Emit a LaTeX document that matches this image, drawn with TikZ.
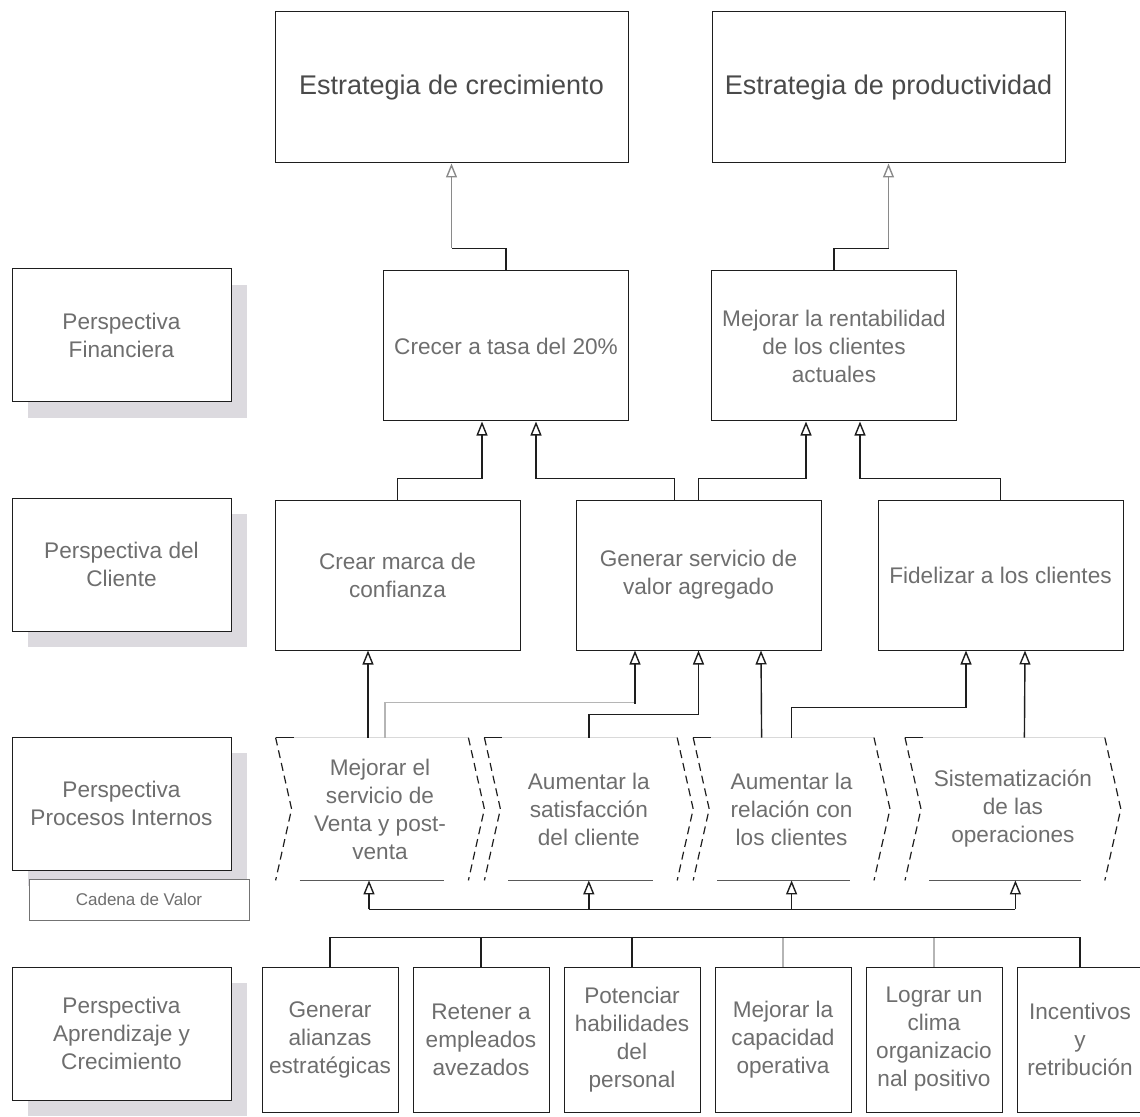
\documentclass[tikz,border=0pt]{standalone}
\usepackage{fontspec}
\setmainfont{Liberation Sans}
\usetikzlibrary{positioning,arrows.meta,calc,shadows}
\definecolor{BscInk}{HTML}{1E1E1E}
\definecolor{BscText}{HTML}{6E6E6E}
\definecolor{BscTextDark}{HTML}{4A4A4A}
\definecolor{BscFaint}{HTML}{B5B5B5}
\definecolor{BscGrey}{HTML}{8A8A8A}
\definecolor{BscShadow}{HTML}{DCDADF}
\tikzset{
  bscArrow/.style={-{Triangle[open, length=7pt, width=5.5pt]}, line width=0.7pt, draw=BscInk},
  bscArrowGrey/.style={bscArrow, draw=BscGrey},
  bscLink/.style={line width=0.7pt, draw=BscInk},
  bscLinkFaint/.style={bscLink, draw=BscFaint},
  goal/.style={draw=BscInk, line width=0.5pt, fill=white, align=center, inner sep=3pt,
    text=BscText, font=\fontsize{11.3}{14}\selectfont,
    minimum width=122.5pt, minimum height=75pt},
  stratBox/.style={goal, text=BscTextDark, font=\fontsize{13.5}{16}\selectfont,
    minimum width=176.5pt, minimum height=75.5pt},
  perspBox/.style={goal, minimum width=109.5pt, minimum height=66.5pt,
    drop shadow={shadow xshift=8pt, shadow yshift=-8pt, fill=BscShadow, opacity=1}},
  chainBox/.style={goal, draw=black!55, font=\fontsize{8.5}{10}\selectfont,
    minimum width=110pt, minimum height=20.5pt, inner sep=1pt},
  learnBox/.style={goal, minimum width=68pt, minimum height=72.5pt, inner sep=1pt},
  procStep/.style={align=center, text=BscText, font=\fontsize{11.3}{14}\selectfont,
    minimum height=71pt, inner sep=0pt},
  chevSide/.style={dash pattern=on 4pt off 2.5pt, line width=0.6pt, draw=BscInk},
  chevTop/.style={line width=0.5pt, draw=black!15},
  chevBottom/.style={line width=0.6pt, draw=black!65},
}

\begin{document}
\begin{tikzpicture}[x=0.5pt, y=-0.5pt]

  \useasboundingbox (0,0) rectangle (1140,1117);

  % perspectives
  \node[perspBox] (pf) at (121.5,335.5) {Perspectiva\\Financiera};
  \node[perspBox] (pc) at (121.5,564.5) {Perspectiva del\\Cliente};
  \node[perspBox] (pp) at (121.5,803.5) {Perspectiva\\Procesos Internos};
  \node[chainBox] (cv) at (139,899.5) {Cadena de Valor};
  \node[perspBox] (pa) at (121.5,1033.5) {Perspectiva\\Aprendizaje y\\Crecimiento};

  % strategies
  \node[stratBox] (s1) at (451.5,87.5) {Estrategia de crecimiento};
  \node[stratBox, right=41.5pt of s1] (s2) {Estrategia de productividad};

  % financial
  \node[goal] (f1) at (506,346) {Crecer a tasa del 20\%};
  \node[goal, right=41pt of f1] (f2) {Mejorar la rentabilidad\\de los clientes\\actuales};

  % customer
  \node[goal] (c1) at (397.5,575) {Crear marca de\\confianza};
  \node[goal, right=27.5pt of c1] (c2) {Generar servicio de\\valor agregado};
  \node[goal, right=28pt of c2] (c3) {Fidelizar a los clientes};

  % internal processes
  \node[procStep, minimum width=104pt] (p1) at (380,809) {Mejorar el\\servicio de\\Venta y post-\\venta};
  \node[procStep, minimum width=104pt, right=0pt of p1] (p2) {Aumentar la\\satisfacción\\del cliente};
  \node[procStep, minimum width=98pt, right=0pt of p2] (p3) {Aumentar la\\relación con\\los clientes};
  \node[procStep, minimum width=107.5pt, right=7.5pt of p3] (p4) {Sistematización\\de las\\operaciones};
  \foreach \n in {p1,p2,p3,p4}{
    \draw[chevTop] (\n.north west) -- ($(\n.north east)+(-16,0)$);
    \draw[bscLink] (\n.north west) -- ++(18,0);
    \draw[chevBottom] ($(\n.south west)+(24,0)$) -- ($(\n.south east)+(-40,0)$);
    \draw[chevSide] (\n.north west) -- ($(\n.west)+(16,0)$) -- (\n.south west);
    \draw[chevSide] ($(\n.north east)+(-16,0)$) -- (\n.east) -- ($(\n.south east)+(-16,0)$);
  }

  % learning and growth
  \node[learnBox] (l1) at (330,1039.5) {Generar\\alianzas\\estratégicas};
  \node[learnBox, right=7pt of l1] (l2) {Retener a\\empleados\\avezados};
  \node[learnBox, right=7pt of l2] (l3) {Potenciar\\habilidades\\del\\personal};
  \node[learnBox, right=7pt of l3] (l4) {Mejorar la\\capacidad\\operativa};
  \node[learnBox, right=7pt of l4] (l5) {Lograr un\\clima\\organizacio\\nal positivo};
  \node[learnBox, minimum width=63pt, right=7pt of l5] (l6) {Incentivos\\y\\retribución};

  % financial -> strategies
  \coordinate (t1) at ($(s1.south)+(0,85)$);
  \coordinate (t2) at ($(s2.south)+(0,85)$);
  \draw[bscLink] (f1.north) |- (t1);
  \draw[bscArrowGrey] (t1) -- (s1.south);
  \draw[bscLink] (f2.north) |- (t2);
  \draw[bscArrowGrey] (t2) -- (s2.south);

  % customer -> financial
  \draw[bscArrow] (c1.north) -- ++(0,-21) -| ($(f1.south)+(-24,0)$);
  \draw[bscArrow] ($(c2.north)+(-24,0)$) -- ++(0,-21) -| ($(f1.south)+(30,0)$);
  \draw[bscArrow] (c2.north) -- ++(0,-21) -| ($(f2.south)+(-28,0)$);
  \draw[bscArrow] (c3.north) -- ++(0,-21) -| ($(f2.south)+(26,0)$);

  % processes -> customer
  \draw[bscArrow] ($(p1.north)+(-12,0)$) -- ($(c1.south)+(-29.5,0)$);
  \draw[bscLinkFaint] ($(p1.north)+(5,0)$) -- ++(0,-35) -| ($(c2.south)+(-63.5,53)$);
  \draw[bscArrow] ($(c2.south)+(-63.5,53)$) -- ($(c2.south)+(-63.5,0)$);
  \draw[bscArrow] (p2.north) -- ++(0,-23) -| (c2.south);
  \draw[bscArrow] ($(p3.north)+(-30,0)$) -- ($(c2.south)+(62.5,0)$);
  \draw[bscArrow] (p3.north) -- ++(0,-30) -| ($(c3.south)+(-34.5,0)$);
  \draw[bscArrow] ($(p4.north)+(11.5,0)$) -- ($(c3.south)+(24.5,0)$);

  % learning -> processes
  \coordinate (v1) at ($(p1.south)+(-11,29)$);
  \coordinate (v4) at ($(p4.south)+(2.5,29)$);
  \draw[bscLink] (v1) -- (v4);
  \draw[bscArrow] (v1) -- (v1 |- p1.south);
  \draw[bscArrow] (p2.south |- v1) -- (p2.south);
  \draw[bscArrow] (p3.south |- v1) -- (p3.south);
  \draw[bscArrow] (v4) -- (v4 |- p4.south);
  \draw[bscLink] (l1.north) -- ++(0,-29) -| (l6.north);
  \foreach \k in {l2,l3} \draw[bscLink] (\k.north) -- ++(0,-29);
  \foreach \k in {l4,l5} \draw[bscLinkFaint] (\k.north) -- ++(0,-29);

\end{tikzpicture}
\end{document}
